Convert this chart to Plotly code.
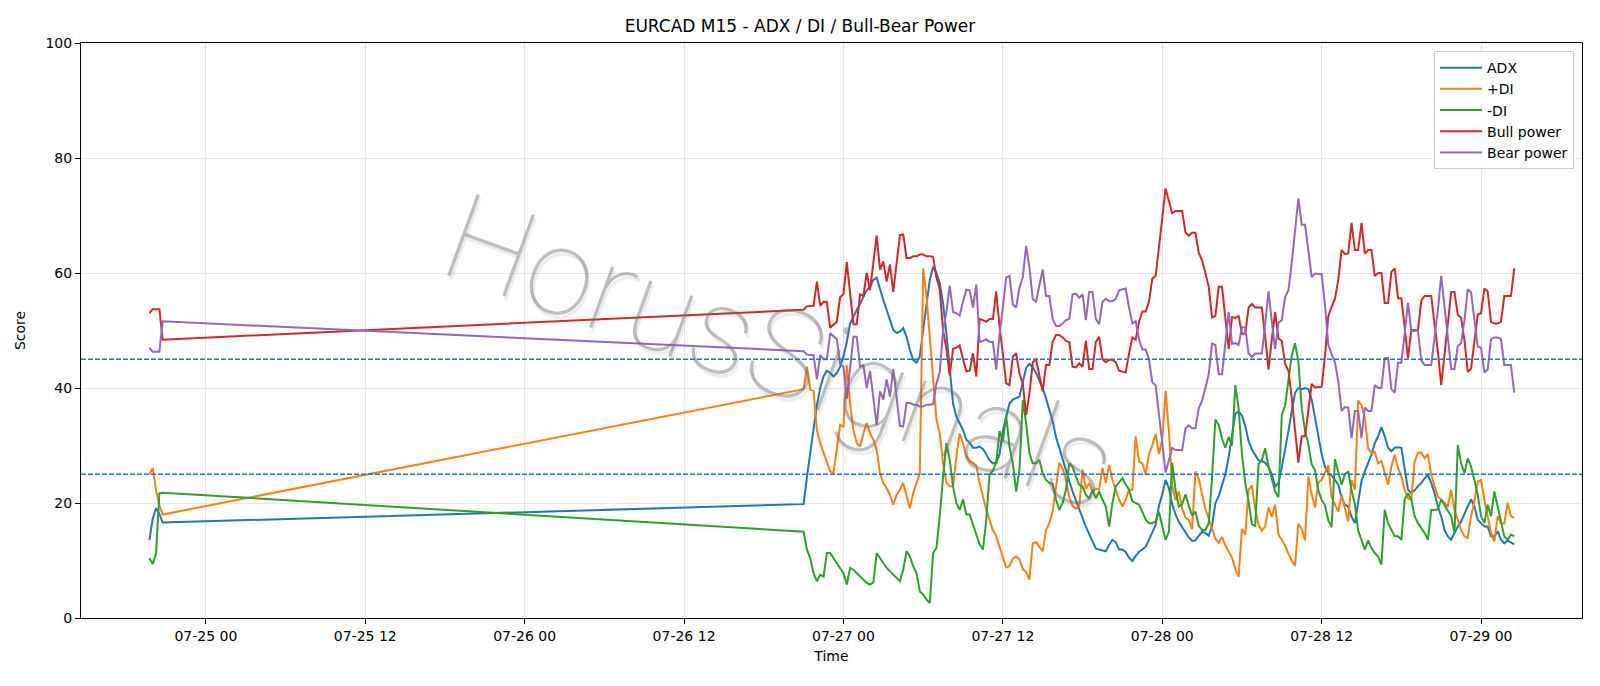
import pandas as pd
import plotly.graph_objects as go

# ---------------- time axis (M15 bars: Friday close, then Sunday open onward) ----------------
FRI_START, FRI_BARS = "2020-07-24 19:45", 5
WEEK_START, WEEK_BARS = "2020-07-26 21:00", 215
times = list(pd.date_range(FRI_START, periods=FRI_BARS, freq="15min")) + \
        list(pd.date_range(WEEK_START, periods=WEEK_BARS, freq="15min"))

TICK_LABELS = ["07-25 00", "07-25 12", "07-26 00", "07-26 12", "07-27 00",
               "07-27 12", "07-28 00", "07-28 12", "07-29 00"]
TICK_TIMES = list(pd.date_range("2020-07-25 00:00", periods=len(TICK_LABELS), freq="12h"))

# ---------------- series values ----------------
adx = [
    13.6, 17.3, 19.1, 18.1, 16.6,
    19.8, 24.5, 29.0, 33.5, 37.0, 40.0, 42.0, 43.0, 42.6, 42.0,
    42.6, 43.7, 45.5, 48.0, 51.2, 52.4, 53.6, 54.7, 55.9, 57.0,
    57.6, 58.8, 59.2, 57.0, 55.3, 53.6, 51.8, 50.1, 49.6, 49.8,
    50.4, 48.9, 46.6, 44.9, 44.4, 45.5, 50.1, 54.7, 58.8, 61.1,
    60.0, 58.2, 54.7, 49.5, 43.1, 37.3, 35.0, 33.9, 32.7, 31.0,
    30.5, 29.6, 29.6, 29.8, 29.4, 28.5, 27.4, 26.9, 27.0, 28.5,
    32.5, 35.0, 37.3, 38.0, 38.3, 38.5, 41.0, 43.5, 44.2, 43.6,
    42.6, 41.4, 40.0, 38.2, 36.4, 34.2, 31.5, 29.5, 27.5, 25.5,
    23.8, 22.0, 20.4, 19.0, 17.4, 15.9, 14.6, 13.2, 12.1, 11.9,
    11.8, 11.6, 12.7, 13.6, 13.2, 11.9, 11.9, 11.5, 10.5, 9.9,
    10.8, 11.5, 11.9, 12.4, 13.6, 15.0, 16.2, 19.5, 21.5, 24.0,
    22.6, 19.8, 18.0, 16.7, 15.8, 15.0, 14.0, 13.4, 13.5, 14.3,
    15.0, 14.8, 14.3, 16.0, 20.0, 21.2, 23.2, 25.0, 28.0, 31.8,
    35.5, 35.9, 35.2, 33.4, 30.8, 29.3, 28.3, 27.4, 27.3, 27.0,
    26.3, 25.0, 22.8, 23.5, 26.2, 29.2, 32.5, 36.0, 39.2, 40.0,
    39.8, 40.0, 39.8, 38.0, 35.0, 31.5, 28.5, 26.3, 25.3, 24.8,
    24.0, 23.2, 21.0, 19.7, 19.4, 17.6, 16.5, 20.5, 23.8, 25.5,
    26.9, 28.4, 30.4, 31.6, 33.2, 31.6, 29.6, 29.0, 29.6, 29.7,
    29.6, 26.3, 22.3, 21.7, 22.2, 22.9, 23.5, 24.3, 24.9, 23.5,
    21.7, 19.4, 17.7, 15.3, 14.2, 13.6, 14.8, 15.9, 16.8, 18.2,
    19.4, 20.6, 19.4, 17.1, 16.5, 15.9, 15.9, 14.2, 14.2, 15.1,
    13.6, 13.0, 13.5, 13.2, 12.8,
]

plus_di = [
    25.0, 26.1, 22.2, 19.6, 18.0,
    39.8, 43.7, 39.7, 39.5, 32.7, 30.4, 28.7, 27.0, 25.5, 25.2,
    29.2, 33.6, 33.3, 44.0, 37.3, 32.7, 30.4, 29.8, 32.1, 33.9,
    32.1, 31.0, 29.2, 25.2, 23.5, 22.6, 21.4, 19.7, 21.4, 22.3,
    23.5, 21.4, 19.1, 21.7, 23.5, 25.2, 60.8, 55.9, 48.9, 40.8,
    34.5, 32.1, 26.9, 23.5, 22.9, 22.9, 28.1, 32.1, 30.4, 28.1,
    27.3, 27.0, 26.5, 23.5, 21.0, 18.8, 17.0, 15.3, 14.2, 12.5,
    10.5, 8.8, 9.0, 10.3, 10.7, 10.2, 8.5, 8.0, 6.7, 13.0,
    13.2, 12.4, 11.6, 15.3, 16.5, 18.5, 23.0, 27.0, 26.0, 24.0,
    21.0, 19.5, 19.0, 19.4, 25.8, 22.5, 23.5, 22.0, 22.5, 22.3,
    26.1, 23.5, 26.6, 24.0, 22.3, 20.6, 19.4, 20.5, 22.3, 22.3,
    31.6, 27.2, 26.9, 25.0, 28.5, 30.0, 32.0, 28.5, 31.0, 39.5,
    32.5, 23.0, 20.5, 22.0, 19.0, 17.5, 17.0, 15.5, 25.5, 24.2,
    21.5, 19.0, 17.3, 15.6, 13.8, 13.1, 14.1, 12.6, 11.4, 10.5,
    8.5, 7.2, 15.5, 14.5, 22.3, 23.0, 19.0, 16.2, 15.2, 16.0,
    19.2, 17.6, 19.7, 14.5, 13.6, 12.6, 11.2, 10.0, 9.1, 16.4,
    15.5, 13.5, 24.6, 21.5, 19.2, 23.6, 24.0, 25.2, 26.6, 21.0,
    19.8, 18.5, 21.4, 19.0, 16.8, 24.0, 22.3, 37.8, 37.0, 34.8,
    29.5, 28.7, 28.9, 26.9, 27.3, 25.2, 23.2, 26.3, 28.4, 26.1,
    24.6, 22.3, 20.8, 20.6, 27.2, 28.7, 28.8, 27.8, 28.5, 24.9,
    22.9, 21.1, 20.6, 20.0, 19.4, 22.3, 18.8, 17.1, 15.3, 14.2,
    13.9, 17.7, 20.3, 23.7, 24.0, 20.6, 17.4, 14.8, 13.3, 17.7,
    16.5, 16.4, 20.0, 17.7, 17.4,
]

minus_di = [
    10.4, 9.4, 11.2, 21.7, 21.8,
    15.0, 11.9, 10.4, 7.8, 6.4, 7.5, 7.2, 11.3, 11.3, 10.4,
    9.6, 8.7, 7.8, 5.8, 8.7, 8.4, 7.8, 7.2, 6.7, 6.1,
    5.8, 6.2, 11.3, 10.4, 9.6, 8.7, 8.1, 7.5, 6.9, 6.4,
    8.4, 11.6, 10.7, 9.0, 7.8, 4.6, 4.1, 3.2, 2.6, 11.3,
    12.2, 17.7, 24.6, 30.4, 27.5, 22.9, 20.0, 18.8, 20.6, 18.0,
    18.0, 16.3, 14.5, 12.8, 11.9, 17.0, 25.0, 25.6, 27.0, 32.5,
    30.7, 35.3, 29.8, 26.9, 22.0, 25.8, 37.9, 33.9, 28.7, 26.9,
    26.9, 27.5, 25.2, 24.0, 23.5, 23.3, 20.6, 18.8, 20.0, 22.3,
    26.9, 26.3, 24.6, 23.2, 22.9, 21.4, 20.8, 22.3, 20.8, 22.0,
    20.6, 19.4, 15.9, 20.0, 22.9, 23.7, 24.3, 23.2, 22.3, 20.3,
    20.0, 19.7, 18.5, 17.1, 16.5, 16.5, 16.8, 18.5, 16.0, 13.6,
    15.0, 27.0, 22.3, 19.4, 19.8, 21.5, 19.5, 17.8, 18.5, 16.0,
    15.3, 15.3, 16.5, 24.5, 34.5, 33.6, 31.2, 29.6, 31.5, 30.0,
    40.5, 36.5, 28.5, 23.5, 20.3, 16.3, 16.0, 26.8, 27.5, 29.5,
    26.4, 24.0, 22.0, 21.0, 35.3, 37.0, 41.0, 45.7, 47.8, 44.5,
    36.5, 32.5, 30.2, 26.7, 25.7, 22.2, 20.5, 19.6, 17.0, 15.8,
    27.6, 25.5, 23.2, 25.0, 25.5, 22.2, 19.8, 15.2, 13.6, 11.9,
    13.5, 12.2, 11.3, 10.7, 9.3, 18.8, 16.5, 15.3, 14.2, 14.2,
    13.6, 20.6, 21.7, 20.6, 17.7, 16.5, 15.6, 14.8, 13.6, 18.8,
    18.8, 18.9, 20.6, 19.7, 18.8, 17.7, 14.8, 30.1, 26.9, 25.2,
    27.8, 26.3, 24.0, 21.4, 17.7, 16.5, 19.7, 17.7, 22.0, 19.4,
    16.5, 14.2, 13.6, 14.5, 14.2,
]

bull_power = [
    53.0, 53.7, 53.7, 53.7, 48.4,
    53.6, 54.2, 54.3, 54.3, 58.5, 54.3, 55.0, 55.0, 50.5, 51.0,
    51.5, 55.8, 56.3, 61.9, 56.8, 51.1, 51.1, 56.3, 56.0, 60.0,
    57.0, 61.5, 66.5, 60.6, 62.0, 58.5, 61.5, 56.7, 62.0, 66.6,
    66.7, 62.6, 62.6, 62.9, 62.9, 63.2, 63.2, 62.9, 62.9, 62.8,
    59.2, 57.2, 50.0, 46.8, 42.2, 46.8, 47.0, 47.4, 45.0, 42.9,
    43.0, 46.0, 42.0, 52.0, 51.8, 51.5, 52.0, 52.0, 56.8, 50.7,
    46.0, 40.8, 40.5, 45.5, 46.0, 42.5, 40.8, 35.3, 39.0, 44.5,
    45.0, 42.0, 39.4, 44.0, 44.0, 48.0, 49.2, 49.2, 48.8, 48.2,
    48.0, 43.7, 43.6, 44.3, 43.7, 48.2, 43.3, 43.3, 48.0, 48.9,
    45.0, 44.5, 44.9, 44.9, 44.5, 43.0, 42.8, 42.7, 46.0, 48.8,
    48.4, 51.5, 53.3, 53.3, 55.0, 59.0, 59.5, 64.0, 69.5, 74.7,
    72.5, 70.4, 70.8, 70.8, 70.8, 67.0, 66.5, 67.0, 67.0, 63.5,
    62.2, 60.0, 57.6, 52.3, 52.5, 57.6, 57.6, 52.2, 46.8, 52.3,
    52.2, 52.5, 49.4, 49.5, 54.0, 54.6, 54.0, 54.0, 54.0, 48.9,
    43.2, 48.5, 53.2, 48.6, 48.2, 44.2, 43.0, 38.2, 32.5, 27.0,
    31.6, 31.6, 36.1, 40.7, 40.1, 40.1, 40.2, 45.6, 52.5, 54.1,
    55.5, 58.8, 64.0, 63.3, 63.4, 68.7, 64.0, 64.0, 68.7, 63.4,
    64.0, 64.0, 59.5, 60.0, 60.0, 54.8, 54.8, 60.2, 60.8, 55.6,
    55.6, 50.5, 45.2, 50.1, 50.1, 50.0, 55.2, 56.0, 56.0, 56.0,
    51.1, 46.4, 40.5, 46.5, 51.2, 56.7, 56.7, 52.7, 52.2, 48.3,
    42.8, 43.4, 48.0, 52.8, 53.0, 57.3, 56.8, 51.5, 51.2, 51.2,
    51.5, 56.0, 56.0, 56.0, 60.8,
]

bear_power = [
    47.0, 46.3, 46.3, 46.3, 51.6,
    46.4, 45.8, 45.7, 45.7, 41.5, 45.7, 45.0, 45.0, 49.5, 49.0,
    48.5, 44.2, 43.7, 38.1, 43.2, 48.9, 48.9, 43.7, 44.0, 40.0,
    43.0, 38.5, 33.5, 39.4, 38.0, 41.5, 38.5, 43.3, 38.0, 33.4,
    33.3, 37.4, 37.4, 37.1, 37.1, 36.8, 36.8, 37.1, 37.1, 37.2,
    40.8, 42.8, 50.0, 53.2, 57.8, 53.2, 53.0, 52.6, 55.0, 57.1,
    57.0, 54.0, 58.0, 48.0, 48.2, 48.5, 48.0, 48.0, 43.2, 49.3,
    54.0, 59.2, 59.5, 54.5, 54.0, 57.5, 59.2, 64.7, 61.0, 55.5,
    55.0, 58.0, 60.6, 56.0, 56.0, 52.0, 50.8, 50.8, 51.2, 51.8,
    52.0, 56.3, 56.4, 55.7, 56.3, 51.8, 56.7, 56.7, 52.0, 51.1,
    55.0, 55.5, 55.1, 55.1, 55.5, 57.0, 57.2, 57.3, 54.0, 51.2,
    51.6, 48.5, 46.7, 46.7, 45.0, 41.0, 40.5, 36.0, 30.5, 25.3,
    27.5, 29.6, 29.2, 29.2, 29.2, 33.0, 33.5, 33.0, 33.0, 36.5,
    37.8, 40.0, 42.4, 47.7, 47.5, 42.4, 42.4, 47.8, 53.2, 47.7,
    47.8, 47.5, 50.6, 50.5, 46.0, 45.4, 46.0, 46.0, 46.0, 51.1,
    56.8, 51.5, 46.8, 51.4, 51.8, 55.8, 57.0, 61.8, 67.5, 73.0,
    68.4, 68.4, 63.9, 59.3, 59.9, 59.9, 59.8, 54.4, 47.5, 45.9,
    44.5, 41.2, 36.0, 36.7, 36.6, 31.3, 36.0, 36.0, 31.3, 36.6,
    36.0, 36.0, 40.5, 40.0, 40.0, 45.2, 45.2, 39.8, 39.2, 44.4,
    44.4, 49.5, 54.8, 49.9, 49.9, 50.0, 44.8, 44.0, 44.0, 44.0,
    48.9, 53.6, 59.5, 53.5, 48.8, 43.3, 43.3, 47.3, 47.8, 51.7,
    57.2, 56.6, 52.0, 47.2, 47.0, 42.7, 43.2, 48.5, 48.8, 48.8,
    48.5, 44.0, 44.0, 44.0, 39.2,
]

THRESHOLDS = [25, 45]
SERIES = [("ADX", adx, "#1f77b4"), ("+DI", plus_di, "#ff7f0e"), ("-DI", minus_di, "#2ca02c"),
          ("Bull power", bull_power, "#d62728"), ("Bear power", bear_power, "#9467bd")]

FONT = "DejaVu Sans"
fig = go.Figure()
for name, vals, color in SERIES:
    fig.add_trace(go.Scatter(x=times[:len(vals)], y=vals, mode="lines", name=name,
                             line=dict(color=color, width=2)))

for th in THRESHOLDS:
    fig.add_shape(type="line", xref="paper", x0=0, x1=1, yref="y", y0=th, y1=th,
                  line=dict(color="#1f77b4", width=1.4, dash="5px,2px"), layer="above")

# watermark: thin light-grey letters with a faint offset shadow
fig.add_annotation(text="HorusSignals", xref="paper", yref="paper", x=0.466, y=0.462,
                   showarrow=False, textangle=20,
                   font=dict(family="Roboto", weight=100, size=122,
                             color="rgba(110,110,110,0.45)",
                             shadow="3px 3px 1px rgba(90,90,90,0.25)"))

axis_common = dict(showline=True, linecolor="black", linewidth=1.1, mirror=True,
                   ticks="outside", ticklen=5, tickcolor="black", tickwidth=1.1,
                   showgrid=True, gridcolor="#e6e6e6", gridwidth=1, zeroline=False,
                   tickfont=dict(family=FONT, size=14, color="black"))

fig.update_layout(
    width=1600, height=686,
    margin=dict(l=81, r=18, t=43, b=68),
    paper_bgcolor="white", plot_bgcolor="white",
    font=dict(family=FONT, size=14, color="black"),
    title=dict(text="EURCAD M15 - ADX / DI / Bull-Bear Power", x=0.5, xanchor="center",
               y=1 - 26 / 686, yanchor="middle", font=dict(family=FONT, size=17, color="black")),
    xaxis=dict(range=["2020-07-24 14:36", "2020-07-29 07:36"], tickvals=TICK_TIMES,
               ticktext=TICK_LABELS,
               title=dict(text="Time", standoff=8, font=dict(family=FONT, size=14)),
               **axis_common),
    yaxis=dict(range=[0, 100], tickvals=[0, 20, 40, 60, 80, 100],
               title=dict(text="Score", standoff=16, font=dict(family=FONT, size=14)),
               **axis_common),
    legend=dict(x=0.9947, xanchor="right", y=0.986, yanchor="top", itemwidth=42,
                bgcolor="rgba(255,255,255,0.8)", bordercolor="#cccccc", borderwidth=1,
                font=dict(family=FONT, size=14, color="black")),
    showlegend=True,
)

fig.write_html("out.html")
